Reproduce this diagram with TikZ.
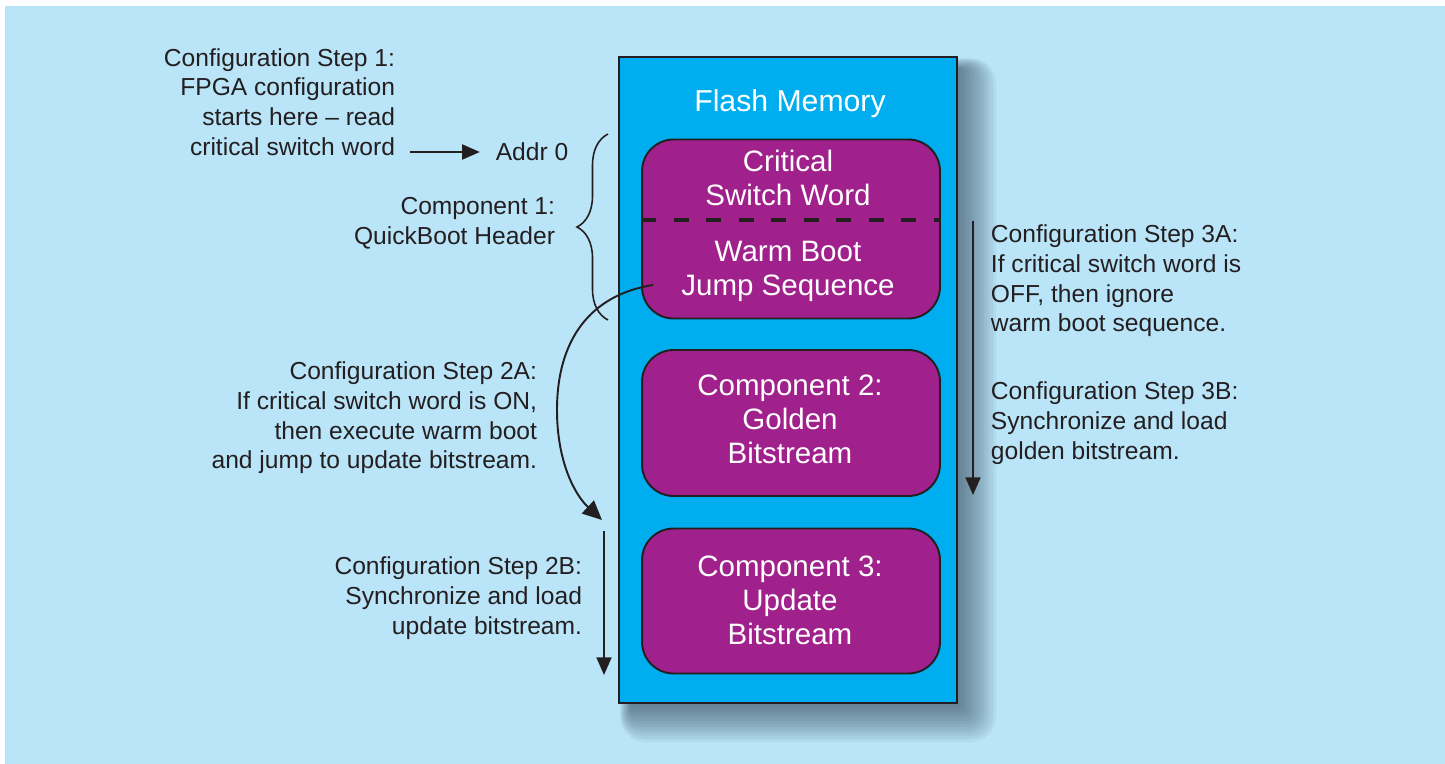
\documentclass[tikz,border=0pt]{standalone}
\usepackage{fontspec}
\setmainfont{Liberation Sans}
\usetikzlibrary{arrows.meta,decorations.pathreplacing}
\definecolor{bgblue}{RGB}{186,228,248}
\definecolor{flashcyan}{RGB}{0,174,239}
\definecolor{compmagenta}{RGB}{160,33,140}
\definecolor{inkgrey}{RGB}{35,31,32}
\definecolor{shadowgrey}{RGB}{40,60,75}

\begin{document}
\begin{tikzpicture}
    [
      x=0.02cm, y=-0.02cm,
      line width=1.1pt,
      flash/.style=
      {
        draw=inkgrey,
        fill=flashcyan,
        minimum width=6.76cm,
        minimum height=12.94cm,
        inner sep=0pt,
      },
      membox/.style=
      {
        draw=inkgrey,
        fill=compmagenta,
        rounded corners=18pt,
        minimum width=5.96cm,
        inner sep=0pt,
      },
      boxtxt/.style=
      {
        align=center,
        text=white,
        inner sep=0pt,
        font=\fontsize{16.8}{19.4}\selectfont
      },
      note/.style=
      {
        text=inkgrey,
        inner sep=0pt,
        font=\fontsize{14}{16.9}\selectfont
      },
      flow/.style=
      {
        draw=inkgrey,
        -{Triangle[length=10pt,width=8.5pt]}
      }
    ]
    \useasboundingbox (0,0) rectangle (1445,764);
    \fill[bgblue] (5,6) rectangle (1445,764);

    % soft shadow of the flash memory
    \foreach \k in {0,3,...,36}
      \fill[shadowgrey, opacity=0.06, rounded corners=\k*0.4pt]
        (631-\k*0.3,69-\k*0.3) rectangle (960+\k,706+\k);

    % flash memory and its three components
    \node[flash] (Flash) at (788,380) {};
    \node[boxtxt, font=\fontsize{17.2}{20}\selectfont] (FlashTitle) at (790,104) {Flash Memory};
    \node[membox, minimum height=3.58cm] (Header) at (791,229) {};
    \node[membox, minimum height=2.92cm] (Golden) at (791,423) {};
    \node[membox, minimum height=2.90cm] (Update) at (791,601) {};
    \coordinate (dashy) at (0,220);
    \draw[inkgrey, line width=2.3pt, dash pattern=on 8.5pt off 10pt]
      (Header.west |- dashy) -- (Header.east |- dashy);

    \node[boxtxt] (CritWord) at (788,178) {Critical\\Switch Word};
    \node[boxtxt] (WarmJump) at (788,271) {Warm Boot\\Jump Sequence};
    \node[boxtxt] (GoldenTxt) at (790,419) {Component 2:\\Golden\\Bitstream};
    \node[boxtxt] (UpdateTxt) at (790,600) {Component 3:\\Update\\Bitstream};

    % notes on the left
    \node[note, align=right, anchor=east] (Step1) at (396,102)
      {Configuration Step 1:\\FPGA configuration\\starts here -- read\\critical switch word};
    \node[note] (Addr) at (532,152) {Addr 0};
    \node[note, align=right, anchor=east] (Comp1) at (556,223)
      {Component 1:\\QuickBoot Header};
    \node[note, align=right, anchor=east] (Step2A) at (538,418)
      {Configuration Step 2A:\\If critical switch word is ON,\\then execute warm boot\\and jump to update bitstream.};
    \node[note, align=right, anchor=east] (Step2B) at (583,598)
      {Configuration Step 2B:\\Synchronize and load\\update bitstream.};

    % notes on the right
    \node[note, align=left, anchor=west] (Step3A) at (990,281)
      {Configuration Step 3A:\\If critical switch word is\\OFF, then ignore\\warm boot sequence.};
    \node[note, align=left, anchor=west] (Step3B) at (990,423)
      {Configuration Step 3B:\\Synchronize and load\\golden bitstream.};

    % brace and arrows
    \draw[inkgrey, line width=0.9pt, decorate, decoration={brace, amplitude=0.62cm}]
      (608,320) -- (608,134);
    \draw[flow] ([xshift=0.28cm]Step1.east |- Addr) -- ([xshift=-0.3cm]Addr.west);
    \coordinate (jumpout) at (653,285);
    \coordinate (jumpin) at (602,520);
    \draw[flow, -{Triangle[length=11pt,width=10pt]}] (jumpout)
      .. controls (590,295) and (557,340) .. (557,410)
      .. controls (557,462) and (575,495) .. (jumpin);
    \coordinate (goldtop) at (973,221);
    \coordinate (goldend) at (973,495);
    \draw[flow] (goldtop) -- (goldend);
    \coordinate (updtop) at (604,531);
    \coordinate (updend) at (604,675);
    \draw[flow] (updtop) -- (updend);
  \end{tikzpicture}
\end{document}
